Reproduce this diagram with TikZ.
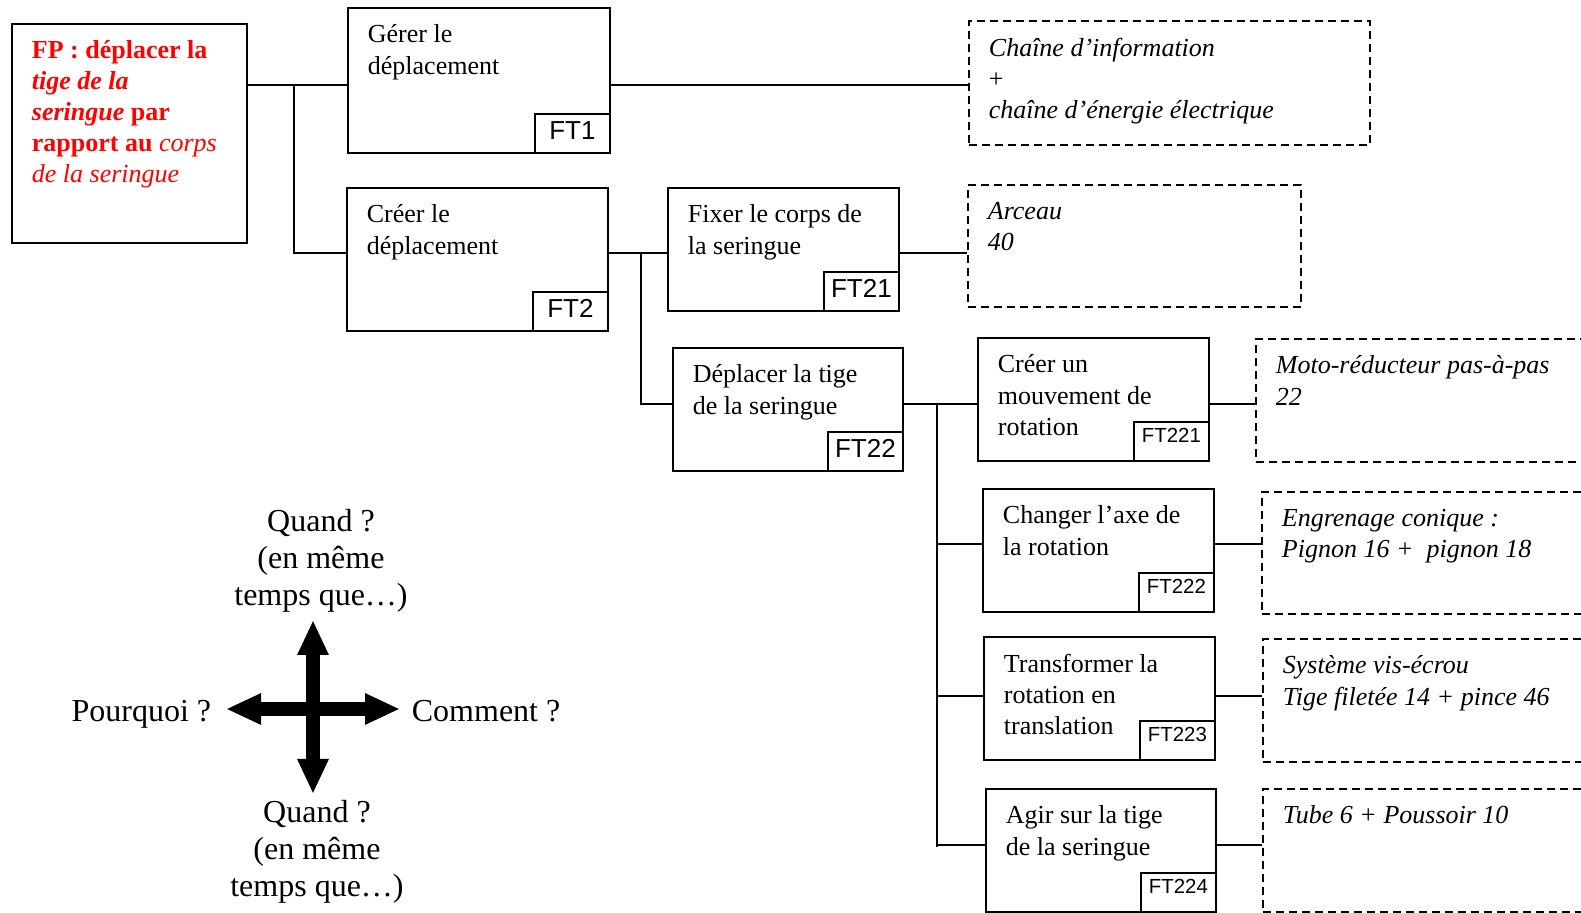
\documentclass[tikz,border=0pt]{standalone}
\usepackage{fontspec}
\setmainfont{Liberation Serif}
\newfontfamily\ftfont{Liberation Sans}
\usetikzlibrary{arrows.meta, calc}

\begin{document}
\begin{tikzpicture}[x=0.5pt, y=-0.5pt, line width=0.9pt,
		fbox/.style = {draw, rectangle, inner sep=0, anchor=north west},
		sbox/.style = {fbox, dash pattern=on 4pt off 2.5pt},
		ftag/.style = {draw, fill=white, inner sep=0, anchor=south east, minimum width=37.5pt, minimum height=19.5pt, text height=9pt, text depth=2.8pt, font=\ftfont\fontsize{13}{14}\selectfont},
		stag/.style = {ftag, text height=7.3pt, text depth=6pt, font=\ftfont\fontsize{10.2}{12}\selectfont},
		txt/.style = {anchor=north west, inner sep=0, align=left, font=\fontsize{13}{15.6}\selectfont},
		qtxt/.style = {inner sep=0, align=center, font=\fontsize{16}{18.7}\selectfont},
		cross/.style = {line width=6.65pt, {Triangle[length=17.5pt,width=14.5pt]}-{Triangle[length=17.5pt,width=14.5pt]}}]

			\useasboundingbox (0,0) rectangle (1581,913);
			\clip (0,0) rectangle (1581,913);

			% fonction principale
			\node[fbox, minimum width=117.5pt, minimum height=109.5pt] (fp) at (11,23) {};
			\node[txt, text=red, font=\fontsize{13}{15.4}\selectfont] (fpt) at ([shift={(20,17)}]fp.north west) {\textbf{FP : déplacer la}\\\textbf{\textit{tige de la}}\\\textbf{\textit{seringue} par}\\\textbf{rapport au} \textit{corps}\\\textit{de la seringue}};

			% fonctions techniques
			\node[fbox, minimum width=131pt, minimum height=72.5pt] (ft1) at (347,7) {};
			\node[fbox, minimum width=130.5pt, minimum height=71.5pt] (ft2) at (346,187) {};
			\node[fbox, minimum width=115.5pt, minimum height=61.5pt] (ft21) at (667,187) {};
			\node[fbox, minimum width=115pt, minimum height=61.5pt] (ft22) at (672,347) {};
			\node[fbox, minimum width=115.5pt, minimum height=61.5pt] (ft221) at (977,337) {};
			\node[fbox, minimum width=115.5pt, minimum height=61.5pt] (ft222) at (982,488) {};
			\node[fbox, minimum width=115.5pt, minimum height=61.5pt] (ft223) at (983,636) {};
			\node[fbox, minimum width=115pt, minimum height=61.5pt] (ft224) at (985,788) {};

			\node[txt] (ft1t) at ([shift={(20,17)}]ft1.north west) {Gérer le\\déplacement};
			\node[txt] (ft2t) at ([shift={(20,17)}]ft2.north west) {Créer le\\déplacement};
			\node[txt] (ft21t) at ([shift={(20,17)}]ft21.north west) {Fixer le corps de\\la seringue};
			\node[txt] (ft22t) at ([shift={(20,17)}]ft22.north west) {Déplacer la tige\\de la seringue};
			\node[txt] (ft221t) at ([shift={(20,17)}]ft221.north west) {Créer un\\mouvement de\\rotation};
			\node[txt] (ft222t) at ([shift={(20,17)}]ft222.north west) {Changer l’axe de\\la rotation};
			\node[txt] (ft223t) at ([shift={(20,17)}]ft223.north west) {Transformer la\\rotation en\\translation};
			\node[txt] (ft224t) at ([shift={(20,17)}]ft224.north west) {Agir sur la tige\\de la seringue};

			\node[ftag] (ft1g) at (ft1.south east) {FT1};
			\node[ftag] (ft2g) at (ft2.south east) {FT2};
			\node[ftag] (ft21g) at (ft21.south east) {FT21};
			\node[ftag] (ft22g) at (ft22.south east) {FT22};
			\node[stag] (ft221g) at (ft221.south east) {FT221};
			\node[stag] (ft222g) at (ft222.south east) {FT222};
			\node[stag] (ft223g) at (ft223.south east) {FT223};
			\node[stag] (ft224g) at (ft224.south east) {FT224};

			% solutions techniques
			\node[sbox, minimum width=200.5pt, minimum height=62pt] (d1) at (968,20) {};
			\node[sbox, minimum width=166.5pt, minimum height=61pt] (d21) at (967,184) {};
			\node[sbox, minimum width=172.5pt, minimum height=61.5pt] (d221) at (1255,338) {};
			\node[sbox, minimum width=169.5pt, minimum height=61pt] (d222) at (1261,491) {};
			\node[sbox, minimum width=169pt, minimum height=61.5pt] (d223) at (1262,638) {};
			\node[sbox, minimum width=169pt, minimum height=61.5pt] (d224) at (1262,788) {};

			\node[txt] (d1t) at ([shift={(20,17)}]d1.north west) {\itshape Chaîne d’information\\+\\\itshape chaîne d’énergie électrique};
			\node[txt] (d21t) at ([shift={(20,17)}]d21.north west) {\itshape Arceau\\\itshape 40};
			\node[txt] (d221t) at ([shift={(20,17)}]d221.north west) {\itshape Moto-réducteur pas-à-pas\\\itshape 22};
			\node[txt] (d222t) at ([shift={(20,17)}]d222.north west) {\itshape Engrenage conique :\\\itshape Pignon 16 +\ \ pignon 18};
			\node[txt] (d223t) at ([shift={(20,17)}]d223.north west) {\itshape Système vis-écrou\\\itshape Tige filetée 14 + pince 46};
			\node[txt] (d224t) at ([shift={(20,17)}]d224.north west) {\itshape Tube 6 + Poussoir 10};

			% liaisons
			\coordinate (j1) at (294,85);
			\coordinate (j2) at (294,253);
			\coordinate (j3) at (641,253);
			\coordinate (j4) at (641,404);
			\coordinate (j5) at (937,404);
			\coordinate (j6) at (937,847);

			\draw (fp.east |- j1) -- (ft1.west |- j1);
			\draw (j1) -- (j2) -- (ft2.west |- j2);
			\draw (ft1.east |- j1) -- (d1.west |- j1);
			\draw (ft2.east |- j3) -- (ft21.west |- j3);
			\draw (j3) -- (j4) -- (ft22.west |- j4);
			\draw (ft21.east |- j3) -- (d21.west |- j3);
			\draw (ft22.east |- j5) -- (ft221.west |- j5);
			\draw (ft221.east |- j5) -- (d221.west |- j5);
			\draw (j5) -- (j6);
			\foreach \n/\y in {222/544, 223/696, 224/845} {
				\draw (937,\y) -- (ft\n.west |- 0,\y);
				\draw (ft\n.east |- 0,\y) -- (d\n.west |- 0,\y);
			}

			% croix des questions
			\coordinate (up) at (313,620);
			\coordinate (dn) at (313,794);
			\coordinate (lt) at (226,709);
			\coordinate (rt) at (400,709);
			\draw[cross] (dn) -- (up);
			\draw[cross] (lt) -- (rt);

			\node[qtxt, anchor=north] (quand1) at (321,508) {Quand ?\\(en même\\temps que…)};
			\node[qtxt, anchor=north] (quand2) at (317,799) {Quand ?\\(en même\\temps que…)};
			\node[qtxt, anchor=base east] (pourquoi) at (212,722) {Pourquoi ?};
			\node[qtxt, anchor=base west] (comment) at (411,722) {Comment ?};
		\end{tikzpicture}
\end{document}
